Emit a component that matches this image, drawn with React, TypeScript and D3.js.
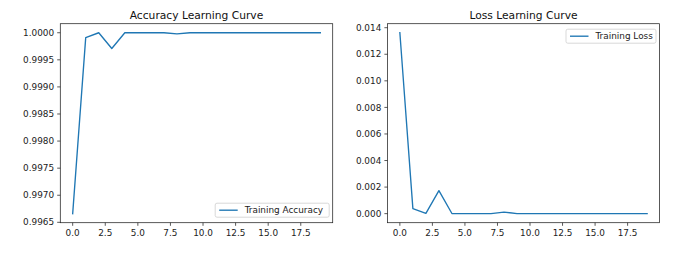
import React from "react";
import * as d3 from "d3";

const epochs = [0, 1, 2, 3, 4, 5, 6, 7, 8, 9, 10, 11, 12, 13, 14, 15, 16, 17, 18, 19];
const accuracy = [
  0.99666, 0.99991, 1.0, 0.99971, 1.0, 1.0, 1.0, 1.0, 0.99998, 1.0,
  1.0, 1.0, 1.0, 1.0, 1.0, 1.0, 1.0, 1.0, 1.0, 1.0,
];
const loss = [
  0.01362, 0.00038, 0.00002, 0.00173, 0.00001, 0.0, 0.0, 0.0, 0.00012, 0.0,
  0.0, 0.0, 0.0, 0.0, 0.0, 0.0, 0.0, 0.0, 0.0, 0.0,
];
const xTicks = [0, 2.5, 5, 7.5, 10, 12.5, 15, 17.5];
const accTicks = [0.9965, 0.997, 0.9975, 0.998, 0.9985, 0.999, 0.9995, 1.0];
const lossTicks = [0, 0.002, 0.004, 0.006, 0.008, 0.01, 0.012, 0.014];

const W = 676;
const H = 253;
const FONT = "DejaVu Sans, sans-serif";
const BLUE = "#1f77b4";

type PanelProps = {
  left: number;
  right: number;
  title: string;
  values: number[];
  yTicks: number[];
  yFormat: (v: number) => string;
  legend: string;
  legendW: number;
  legendPos: "lower right" | "upper right";
};

// matplotlib-style padded domain (5% each side)
function padded(vals: number[]): [number, number] {
  const [lo, hi] = d3.extent(vals) as [number, number];
  const m = (hi - lo) * 0.05;
  return [lo - m, hi + m];
}

function Panel({ left, right, title, values, yTicks, yFormat, legend, legendW, legendPos }: PanelProps) {
  const top = 23.7;
  const bottom = 222.7;
  const x = d3.scaleLinear().domain(padded(epochs)).range([left, right]);
  const y = d3.scaleLinear().domain(padded(values)).range([bottom, top]);
  const line = d3
    .line<number>()
    .x((_, i) => x(epochs[i]))
    .y((d) => y(d));

  const tickLen = 3.1;
  const fs = 8.9;
  const lx = right - 3.5 - legendW;
  const ly = legendPos === "upper right" ? top + 5.5 : bottom - 5.5 - 14;

  return (
    <g>
      <text x={(left + right) / 2} y={19} textAnchor="middle" fontFamily={FONT} fontSize={10.7} fill="#111">
        {title}
      </text>
      <path
        d={line(values) || ""}
        fill="none"
        stroke={BLUE}
        strokeWidth={1.35}
        strokeLinejoin="round"
        strokeLinecap="square"
      />
      <rect x={left} y={top} width={right - left} height={bottom - top} fill="none" stroke="#222" strokeWidth={0.75} />
      {xTicks.map((t) => (
        <g key={"x" + t}>
          <line x1={x(t)} x2={x(t)} y1={bottom} y2={bottom + tickLen} stroke="#222" strokeWidth={0.75} />
          <text
            x={x(t)}
            y={bottom + tickLen + 3.1 + fs * 0.76}
            textAnchor="middle"
            fontFamily={FONT}
            fontSize={fs}
            fill="#222"
          >
            {t.toFixed(1)}
          </text>
        </g>
      ))}
      {yTicks.map((t) => (
        <g key={"y" + t}>
          <line x1={left - tickLen} x2={left} y1={y(t)} y2={y(t)} stroke="#222" strokeWidth={0.75} />
          <text
            x={left - tickLen - 3.1}
            y={y(t)}
            dy="0.35em"
            textAnchor="end"
            fontFamily={FONT}
            fontSize={fs}
            fill="#222"
          >
            {yFormat(t)}
          </text>
        </g>
      ))}
      <g>
        <rect
          x={lx}
          y={ly}
          width={legendW}
          height={14}
          rx={1.8}
          fill="white"
          fillOpacity={0.8}
          stroke="#ccc"
          strokeWidth={0.75}
        />
        <line x1={lx + 4} x2={lx + 22.5} y1={ly + 7} y2={ly + 7} stroke={BLUE} strokeWidth={1.35} />
        <text x={lx + 29.5} y={ly + 7} dy="0.35em" fontFamily={FONT} fontSize={fs} fill="#222">
          {legend}
        </text>
      </g>
    </g>
  );
}

export default function App() {
  return (
    <svg
      width={W}
      height={H}
      viewBox={`0 0 ${W} ${H}`}
      style={{ position: "absolute", left: 0, top: 0, background: "white" }}
    >
      <rect width={W} height={H} fill="white" />
      <Panel
        left={60.3}
        right={332.7}
        title="Accuracy Learning Curve"
        values={accuracy}
        yTicks={accTicks}
        yFormat={(v) => v.toFixed(4)}
        legend="Training Accuracy"
        legendW={114}
        legendPos="lower right"
      />
      <Panel
        left={387.5}
        right={659.5}
        title="Loss Learning Curve"
        values={loss}
        yTicks={lossTicks}
        yFormat={(v) => v.toFixed(3)}
        legend="Training Loss"
        legendW={90}
        legendPos="upper right"
      />
    </svg>
  );
}
